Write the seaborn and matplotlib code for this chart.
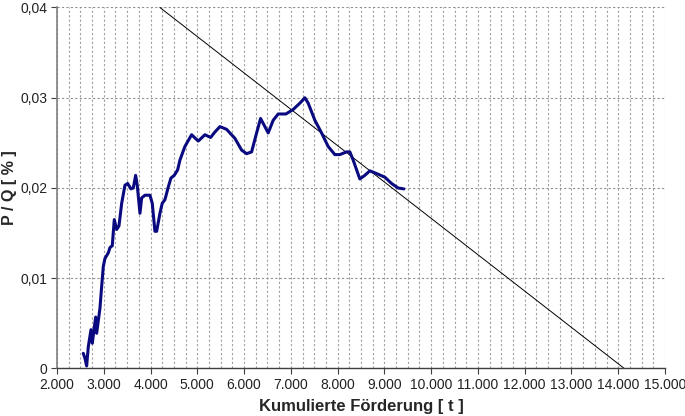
import pandas as pd
import matplotlib.pyplot as plt
import matplotlib.ticker as mticker
import seaborn as sns

# cumulative production [t] and P/Q ratio
foerderung = [2562, 2598, 2634, 2669, 2727, 2755, 2827, 2848, 2919, 2955,
              2990, 3026, 3096, 3133, 3182, 3225, 3276, 3325, 3383, 3453,
              3511, 3581, 3631, 3682, 3716, 3774, 3810, 3881, 3988, 4037,
              4094, 4131, 4201, 4250, 4308, 4379, 4436, 4507, 4579, 4629,
              4735, 4878, 5020, 5163, 5285, 5376, 5483, 5626, 5804, 5947,
              6054, 6161, 6268, 6353, 6445, 6516, 6622, 6729, 6894, 7050,
              7193, 7300, 7371, 7514, 7657, 7798, 7941, 8048, 8191, 8262,
              8332, 8475, 8582, 8689, 8832, 9010, 9153, 9294, 9416]
pq = [0.00168, 0.00113, 0.00028, 0.0024, 0.0043, 0.0028, 0.0057, 0.0039, 0.0067, 0.0091,
      0.0113, 0.0122, 0.0128, 0.0134, 0.0136, 0.0165, 0.0154, 0.0158, 0.0183, 0.0203,
      0.0205, 0.0199, 0.0200, 0.0214, 0.0203, 0.0172, 0.0189, 0.0192, 0.0192, 0.0183,
      0.0152, 0.0152, 0.0172, 0.0183, 0.0187, 0.0201, 0.0211, 0.0214, 0.0220, 0.0231,
      0.0246, 0.0259, 0.0252, 0.0259, 0.0256, 0.0262, 0.0268, 0.0265, 0.0255, 0.0242,
      0.0238, 0.0240, 0.0261, 0.0277, 0.0268, 0.0261, 0.0275, 0.0282, 0.0282, 0.0287,
      0.0294, 0.0300, 0.0294, 0.0275, 0.0261, 0.0246, 0.0237, 0.0237, 0.0240, 0.0240,
      0.0231, 0.0210, 0.0214, 0.0219, 0.0216, 0.0212, 0.0205, 0.0200, 0.0199]

# trend line end points
trend_x = [4200, 14130]
trend_y = [0.04, 0.0]

df = pd.DataFrame({'x': foerderung, 'y': pq})
trend = pd.DataFrame({'x': trend_x, 'y': trend_y})

sns.set_style('white')
plt.rcParams['font.family'] = ['Liberation Sans', 'DejaVu Sans']

fig = plt.figure(figsize=(6.85, 4.16), dpi=100)
ax = fig.add_axes([0.0832, 0.1142, 0.8876, 0.8678])

sns.lineplot(data=trend, x='x', y='y', ax=ax, color='black', linewidth=0.7, sort=False)
sns.lineplot(data=df, x='x', y='y', ax=ax, color='#0a0a80', linewidth=2.2, sort=False)

ax.set_xlim(2000, 15000)
ax.set_ylim(0, 0.04)
ax.xaxis.set_major_locator(mticker.MultipleLocator(1000))
ax.xaxis.set_minor_locator(mticker.MultipleLocator(250))
ax.yaxis.set_major_locator(mticker.MultipleLocator(0.01))
ax.xaxis.set_major_formatter(mticker.FuncFormatter(lambda v, p: f'{int(v):,}'.replace(',', '.')))
ax.yaxis.set_major_formatter(mticker.FuncFormatter(lambda v, p: '0' if v == 0 else f'{v:.2f}'.replace('.', ',')))

ax.grid(which='both', axis='x', color='#a0a0a0', linestyle=(0, (2, 2)), linewidth=0.8)
ax.grid(which='major', axis='y', color='#909090', linestyle=(0, (2, 2)), linewidth=0.8)
ax.set_axisbelow(True)

for side in ['top', 'right']:
    ax.spines[side].set_visible(False)
ax.spines['left'].set_color('#808080')
ax.spines['bottom'].set_color('#404040')
ax.spines['left'].set_linewidth(1.2)
ax.spines['bottom'].set_linewidth(1.0)
ax.tick_params(axis='both', which='major', direction='out', length=4, width=0.8,
               color='#404040', labelsize=10, labelcolor='#222222', pad=3, bottom=True, left=True)
ax.tick_params(axis='x', which='minor', bottom=False)

ax.set_xlabel('Kumulierte Förderung [ t ]', fontsize=12, fontweight='bold', labelpad=5)
ax.set_ylabel('P / Q [ % ]', fontsize=11.5, fontweight='bold')
ax.yaxis.set_label_coords(-0.066, 0.5)

plt.savefig('out.png', dpi=100)
